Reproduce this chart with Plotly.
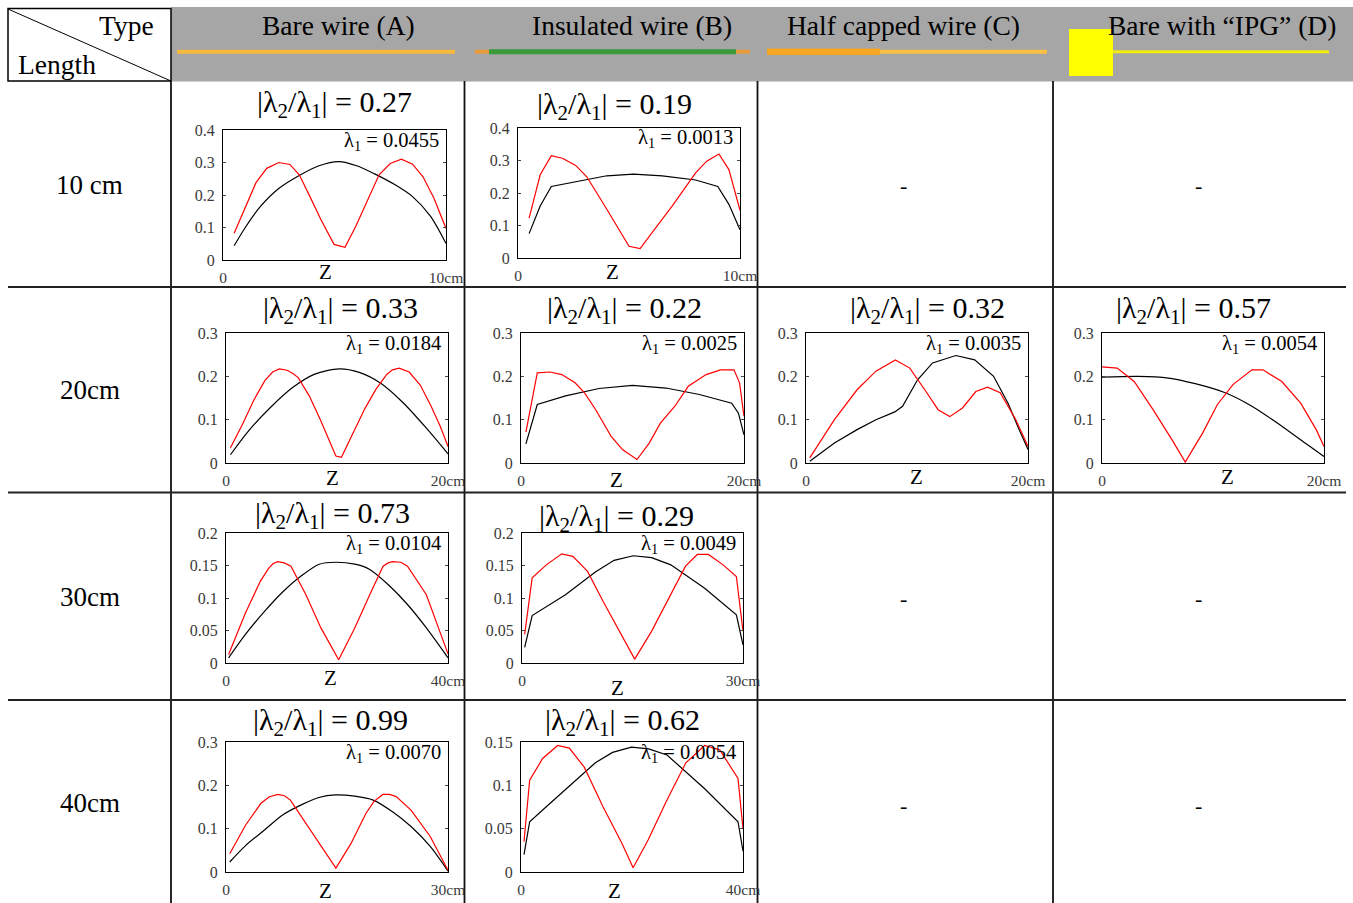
import plotly.graph_objects as go

# ---- data (z in cm, amplitude) ----
row_labels = ["10 cm", "20cm", "30cm", "40cm"]
col_labels = ["Bare wire (A)", "Insulated wire (B)", "Half capped wire (C)", "Bare with “IPG” (D)"]

yt_04 = [0, 0.1, 0.2, 0.3, 0.4]
yt_03 = [0, 0.1, 0.2, 0.3]
yt_02 = [0, 0.05, 0.1, 0.15, 0.2]
yt_015 = [0, 0.05, 0.1, 0.15]

# 10 cm, bare
a10_black_z = [0.5, 1.0, 1.67, 2.5, 3.42, 4.3, 5.2, 6.0, 6.8, 7.7, 8.5, 9.3, 10.0]
a10_black = [0.044, 0.1, 0.164, 0.22, 0.26, 0.29, 0.303, 0.29, 0.265, 0.232, 0.195, 0.135, 0.051]
a10_red_z = [0.5, 1.0, 1.48, 1.96, 2.5, 3.0, 3.42, 3.9, 4.4, 4.98, 5.47, 5.95, 6.54, 7.0, 7.5, 8.0, 8.5, 8.97, 9.46, 10.0]
a10_red = [0.082, 0.164, 0.238, 0.282, 0.3, 0.294, 0.262, 0.195, 0.123, 0.048, 0.039, 0.103, 0.195, 0.262, 0.297, 0.31, 0.295, 0.256, 0.19, 0.097]

# 10 cm, insulated
b10_black_z = [0.5, 1.0, 1.5, 3.0, 4.0, 5.2, 6.5, 8.0, 9.0, 9.5, 10.0]
b10_black = [0.075, 0.16, 0.22, 0.24, 0.253, 0.258, 0.253, 0.24, 0.22, 0.165, 0.087]
b10_red_z = [0.5, 1.0, 1.5, 2.0, 2.6, 3.1, 4.0, 5.0, 5.5, 6.0, 7.0, 8.0, 8.5, 9.05, 9.5, 10.0]
b10_red = [0.123, 0.256, 0.315, 0.307, 0.285, 0.25, 0.15, 0.036, 0.029, 0.075, 0.165, 0.262, 0.298, 0.32, 0.272, 0.147]

# 20 cm, bare
a20_black_z = [0.4, 2.0, 4.0, 6.0, 8.0, 10.2, 12.0, 14.0, 16.0, 18.0, 20.0]
a20_black = [0.019, 0.073, 0.128, 0.174, 0.205, 0.217, 0.209, 0.183, 0.138, 0.082, 0.021]
a20_red_z = [0.4, 1.5, 2.5, 3.5, 4.2, 4.8, 5.5, 6.0, 6.5, 7.5, 8.5, 9.9, 10.4, 11.5, 12.5, 13.5, 14.5, 15.0, 15.6, 16.5, 17.5, 18.5, 19.3, 20.0]
a20_red = [0.035, 0.09, 0.145, 0.19, 0.21, 0.217, 0.214, 0.207, 0.197, 0.155, 0.1, 0.016, 0.013, 0.07, 0.125, 0.17, 0.205, 0.215, 0.219, 0.21, 0.18, 0.13, 0.085, 0.038]

# 20 cm, insulated
b20_black_z = [0.44, 1.46, 4.0, 7.0, 10.0, 13.0, 16.0, 18.9, 19.5, 20.0]
b20_black = [0.044, 0.135, 0.155, 0.172, 0.179, 0.173, 0.158, 0.138, 0.115, 0.065]
b20_red_z = [0.44, 1.46, 2.6, 3.66, 4.85, 5.7, 6.7, 8.07, 9.1, 10.4, 11.5, 12.5, 13.8, 15.0, 16.6, 17.9, 19.1, 19.6, 20.0]
b20_red = [0.071, 0.208, 0.21, 0.204, 0.185, 0.162, 0.123, 0.062, 0.031, 0.008, 0.046, 0.092, 0.131, 0.177, 0.204, 0.215, 0.215, 0.185, 0.108]

# 20 cm, half capped
c20_black_z = [0.34, 2.56, 4.6, 6.3, 8.0, 8.7, 10.05, 11.4, 13.5, 15.2, 16.9, 18.2, 19.2, 20.0]
c20_black = [0.004, 0.046, 0.077, 0.1, 0.118, 0.131, 0.192, 0.231, 0.248, 0.238, 0.2, 0.138, 0.077, 0.031]
c20_red_z = [0.34, 2.56, 4.6, 6.3, 8.05, 9.35, 10.7, 11.9, 12.95, 14.1, 15.3, 16.35, 17.5, 18.9, 20.0]
c20_red = [0.012, 0.1, 0.169, 0.212, 0.238, 0.219, 0.169, 0.123, 0.107, 0.127, 0.165, 0.175, 0.162, 0.1, 0.038]

# 20 cm, bare with IPG
d20_black_z = [0.0, 3.25, 5.98, 8.4, 11.1, 13.5, 16.2, 18.3, 20.0]
d20_black = [0.198, 0.2, 0.196, 0.183, 0.162, 0.131, 0.085, 0.046, 0.015]
d20_red_z = [0.0, 1.37, 2.9, 4.6, 6.3, 7.5, 9.06, 10.4, 11.8, 13.5, 14.5, 16.2, 17.9, 19.3, 20.0]
d20_red = [0.222, 0.219, 0.188, 0.123, 0.054, 0.002, 0.069, 0.135, 0.181, 0.215, 0.215, 0.188, 0.138, 0.077, 0.038]

# 30 cm row, bare (axis drawn to 40cm)
a30_black_z = [0.47, 3.5, 6.9, 10.3, 13.7, 16.8, 19.8, 23.2, 25.9, 29.3, 32.7, 36.1, 40.0]
a30_black = [0.008, 0.044, 0.079, 0.11, 0.135, 0.152, 0.155, 0.152, 0.144, 0.12, 0.09, 0.054, 0.008]
a30_red_z = [0.47, 3.5, 6.2, 7.7, 8.5, 9.3, 10.5, 11.7, 14.4, 17.1, 20.3, 23.2, 25.9, 28.3, 29.2, 30.0, 31.5, 32.7, 36.1, 38.8, 40.0]
a30_red = [0.013, 0.077, 0.126, 0.146, 0.153, 0.156, 0.154, 0.149, 0.105, 0.054, 0.005, 0.054, 0.105, 0.149, 0.154, 0.156, 0.155, 0.149, 0.105, 0.044, 0.014]

# 30 cm row, insulated
b30_black_z = [0.36, 1.38, 5.9, 9.96, 12.5, 15.1, 17.6, 20.2, 24.8, 29.1, 30.0]
b30_black = [0.024, 0.073, 0.105, 0.14, 0.158, 0.165, 0.162, 0.151, 0.115, 0.074, 0.028]
b30_red_z = [0.36, 1.38, 3.3, 5.4, 6.9, 8.9, 11.0, 13.5, 15.3, 17.6, 20.2, 22.2, 23.8, 25.3, 27.3, 29.1, 30.0]
b30_red = [0.044, 0.131, 0.151, 0.168, 0.164, 0.141, 0.095, 0.044, 0.006, 0.049, 0.105, 0.149, 0.167, 0.167, 0.151, 0.133, 0.049]

# 40 cm row, bare (axis drawn to 30cm)
a40_black_z = [0.5, 2.64, 5.2, 7.7, 10.3, 12.55, 14.8, 17.4, 19.9, 22.5, 25.0, 27.6, 30.0]
a40_black = [0.023, 0.061, 0.097, 0.132, 0.156, 0.172, 0.178, 0.175, 0.166, 0.139, 0.105, 0.059, 0.002]
a40_red_z = [0.5, 2.64, 4.7, 5.8, 7.0, 7.9, 8.7, 10.8, 12.8, 14.85, 16.9, 18.9, 20.0, 21.2, 22.1, 23.0, 25.0, 27.6, 30.0]
a40_red = [0.042, 0.108, 0.158, 0.173, 0.179, 0.176, 0.166, 0.112, 0.059, 0.009, 0.066, 0.135, 0.163, 0.179, 0.179, 0.174, 0.143, 0.082, 0.004]

# 40 cm row, insulated
b40_black_z = [0.54, 1.56, 4.5, 8.0, 13.4, 16.5, 19.9, 23.0, 26.3, 33.1, 36.0, 39.1, 40.0]
b40_black = [0.02, 0.058, 0.075, 0.095, 0.126, 0.138, 0.144, 0.142, 0.135, 0.096, 0.078, 0.058, 0.024]
b40_red_z = [0.54, 1.56, 3.9, 6.6, 8.7, 11.4, 14.8, 18.2, 20.2, 22.9, 26.3, 29.7, 33.1, 35.8, 39.1, 40.0]
b40_red = [0.035, 0.106, 0.131, 0.146, 0.143, 0.121, 0.075, 0.033, 0.005, 0.037, 0.083, 0.126, 0.146, 0.141, 0.108, 0.05]

ratios = ["0.27", "0.19", "0.33", "0.22", "0.32", "0.57", "0.73", "0.29", "0.99", "0.62"]
lambdas = ["0.0455", "0.0013", "0.0184", "0.0025", "0.0035", "0.0054", "0.0104", "0.0049", "0.0070", "0.0054"]
lengths = [10, 10, 20, 20, 20, 20, 40, 30, 30, 40]

# ---- page geometry (pixels) ----
W, H = 1353, 903
SERIF = "Liberation Serif, Times New Roman, serif"


def fx(x):
    return x / W


def fy(y):
    return 1 - y / H


# (black z, black, red z, red, y ticks, smooth black?)
curves = [
    (a10_black_z, a10_black, a10_red_z, a10_red, yt_04, True),
    (b10_black_z, b10_black, b10_red_z, b10_red, yt_04, False),
    (a20_black_z, a20_black, a20_red_z, a20_red, yt_03, True),
    (b20_black_z, b20_black, b20_red_z, b20_red, yt_03, False),
    (c20_black_z, c20_black, c20_red_z, c20_red, yt_03, False),
    (d20_black_z, d20_black, d20_red_z, d20_red, yt_03, True),
    (a30_black_z, a30_black, a30_red_z, a30_red, yt_02, True),
    (b30_black_z, b30_black, b30_red_z, b30_red, yt_02, False),
    (a40_black_z, a40_black, a40_red_z, a40_red, yt_03, True),
    (b40_black_z, b40_black, b40_red_z, b40_red, yt_015, False),
]

# plot box (x0, x1, ytop, ybottom), title centre, "Z" label centre
boxes = [
    (223, 446, 130, 260), (518, 740, 128, 258),
    (226, 448, 333, 463), (521, 744, 333, 463), (806, 1028, 333, 463), (1102, 1324, 333, 463),
    (226, 448, 533, 663), (522, 743, 533, 663),
    (226, 448, 742, 872), (521, 743, 742, 872),
]
title_pos = [(334, 104), (614, 106), (340, 310), (624, 310), (927, 310), (1193, 310),
             (332, 515), (616, 518), (330, 722), (622, 722)]
z_pos = [(325, 272), (612, 272), (332, 478), (616, 480), (916, 477), (1227, 477),
         (330, 678), (617, 688), (325, 891), (614, 891)]

fig = go.Figure()
annotations = []
layout_axes = {}


def label(x, y, text, size, xanchor="center"):
    annotations.append(dict(x=fx(x), y=fy(y), xref="paper", yref="paper", showarrow=False,
                            text=text, xanchor=xanchor, yanchor="middle",
                            font=dict(family=SERIF, size=size, color="black")))


for i, (zb, yb, zr, yr, yt, smooth) in enumerate(curves):
    n = i + 1
    xname = "x" if n == 1 else f"x{n}"
    yname = "y" if n == 1 else f"y{n}"
    black_line = dict(color="black", width=1.2)
    if smooth:
        black_line.update(shape="spline", smoothing=0.8)
    fig.add_trace(go.Scatter(x=zb, y=yb, mode="lines", line=black_line,
                             xaxis=xname, yaxis=yname, showlegend=False, hoverinfo="skip"))
    fig.add_trace(go.Scatter(x=zr, y=yr, mode="lines", line=dict(color="red", width=1.2),
                             xaxis=xname, yaxis=yname, showlegend=False, hoverinfo="skip"))
    x0, x1, yt0, yb0 = boxes[i]
    L = lengths[i]
    layout_axes["xaxis" if n == 1 else f"xaxis{n}"] = dict(
        domain=[fx(x0), fx(x1)], anchor=yname, range=[0, L], automargin=False,
        showline=True, mirror=True, linecolor="black", linewidth=1,
        showgrid=False, zeroline=False, ticks="",
        tickvals=[0, L], ticktext=["0", f"{L}cm"], ticklabelstandoff=3,
        tickfont=dict(family=SERIF, size=15.5, color="#3a3a3a"),
    )
    layout_axes["yaxis" if n == 1 else f"yaxis{n}"] = dict(
        domain=[fy(yb0), fy(yt0)], anchor=xname, range=[0, yt[-1]], automargin=False,
        showline=True, mirror="ticks", linecolor="black", linewidth=1,
        showgrid=False, zeroline=False, ticks="inside", ticklen=3, tickcolor="#444",
        tickvals=yt, ticktext=[f"{v:g}" for v in yt], ticklabelstandoff=4,
        tickfont=dict(family=SERIF, size=16, color="#3a3a3a"),
    )
    tx, ty = title_pos[i]
    label(tx, ty, f"|λ<sub>2</sub>/λ<sub>1</sub>| = {ratios[i]}", 30)
    label(x1 - 5, yt0 + 11, f"λ<sub>1</sub> = {lambdas[i]}", 20.5, xanchor="right")
    zx, zy = z_pos[i]
    label(zx, zy, "Z", 21)

# table header text
for text, cx in zip(col_labels, [338, 632, 904, 1222]):
    label(cx, 25, text, 27.5)
label(126, 25, "Type", 27.5)
label(57, 65, "Length", 27.5)
for text, cy in zip(row_labels, [185, 390, 597, 803]):
    label(90, cy, text, 27)
# empty cells
for cx, cy in [(904, 185), (1198, 185), (904, 598), (1198, 598), (904, 805), (1198, 805)]:
    label(cx, cy, "-", 22)

shapes = []


def pline(x0, y0, x1, y1, color="black", width=1.0):
    shapes.append(dict(type="line", xref="paper", yref="paper", x0=fx(x0), y0=fy(y0),
                       x1=fx(x1), y1=fy(y1), line=dict(color=color, width=width), layer="below"))


def prect(x0, y0, x1, y1, fill, line_color=None, width=0):
    shapes.append(dict(type="rect", xref="paper", yref="paper", x0=fx(x0), y0=fy(y0),
                       x1=fx(x1), y1=fy(y1), fillcolor=fill,
                       line=dict(color=line_color or fill, width=width), layer="below"))


# header band and corner cell
prect(171, 7, 1353, 81.5, "#a6a6a6")
prect(8, 8.5, 171, 81, "rgba(0,0,0,0)", "black", 1.5)
pline(8, 9, 171, 81, width=1)

# wires drawn in the header
pline(177, 51.7, 455, 51.7, "#f6b93b", 4)
pline(475, 51.7, 489, 51.7, "#e79a3a", 4)
pline(489, 51.7, 736, 51.7, "#3a9a3a", 5)
pline(736, 51.7, 750, 51.7, "#e79a3a", 4)
pline(767, 51.7, 1047, 51.7, "#fbbf45", 4)
pline(767, 51.7, 880, 51.7, "#f5a623", 6.5)
prect(1069, 29, 1113, 76, "#ffff00")
pline(1113, 51.7, 1329, 51.7, "#f3eb10", 3)

# table rules
for x in [171, 464.5, 757.5, 1053]:
    pline(x, 81, x, 903, "#111", 1.8)
for y in [287, 492.5, 700]:
    pline(8, y, 1346, y, "#222", 2.2)

fig.update_layout(
    width=W, height=H, autosize=False,
    margin=dict(l=0, r=0, t=0, b=0, pad=0),
    paper_bgcolor="white", plot_bgcolor="rgba(0,0,0,0)",
    showlegend=False, hovermode=False,
    annotations=annotations, shapes=shapes,
    **layout_axes,
)

fig.write_html(
    "out.html",
    config={"displayModeBar": False},
    post_script="document.body.style.margin='0';document.body.style.overflow='hidden';",
)
